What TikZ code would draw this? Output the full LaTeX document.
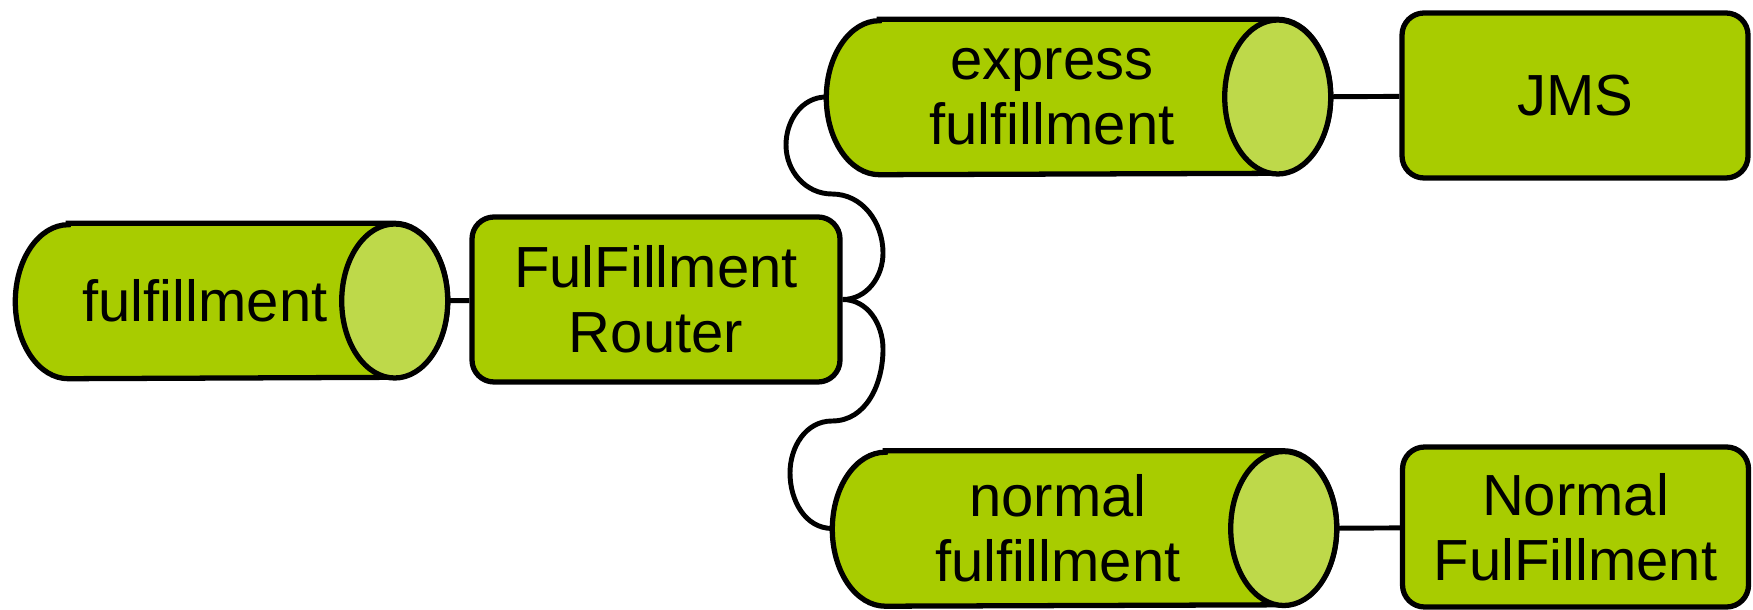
\documentclass[tikz,border=0pt]{standalone}
\usepackage{fontspec}
\setmainfont{Liberation Sans}
\usetikzlibrary{positioning,backgrounds}

\definecolor{limefill}{RGB}{168,204,0}
\definecolor{limeend}{RGB}{190,217,74}

% channel drawn as a lying cylinder round the named node
\newcommand{\pipeshape}[1]{%
  \filldraw[pipeline] ([xshift=0.53cm]#1.north west) -- (#1.north east)
    arc[start angle=90,end angle=-90,x radius=0.53cm,y radius=0.77cm]
    -- ([xshift=0.53cm]#1.south west)
    arc[start angle=270,end angle=90,x radius=0.53cm,y radius=0.77cm] -- cycle;
  \filldraw[pipeline, fill=limeend] (#1.east) ellipse[x radius=0.53cm,y radius=0.77cm];
}

\begin{document}
\begin{tikzpicture}[
  pipe/.style={rectangle, minimum height=1.54cm, inner sep=0pt, align=center,
    font=\fontsize{16.5}{18.5}\selectfont},
  pipeline/.style={draw=black, fill=limefill, line width=1.5pt},
  unit/.style={rectangle, draw, line width=1.5pt, rounded corners=2.2mm, fill=limefill,
    minimum width=3.46cm, minimum height=1.63cm, align=center,
    font=\fontsize{16.5}{18.5}\selectfont},
  link/.style={line width=1.4pt}
]

\useasboundingbox (0,0) rectangle (17.53,6.09);

% Channels
\draw (2.05,3.08) node [pipe, minimum width=3.78cm] (fulfillment) {fulfillment};
\draw (10.52,5.12) node [pipe, minimum width=4.50cm] (express) {express\\fulfillment};
\draw (10.58,0.805) node [pipe, minimum width=4.50cm] (normal) {normal\\fulfillment};

% Endpoints
\draw (6.56,3.095) node [unit, minimum width=3.68cm, minimum height=1.65cm] (router) {FulFillment\\Router};
\draw (15.75,5.135) node [unit, minimum height=1.65cm] (jms) {JMS};
\draw (15.755,0.82) node [unit, minimum height=1.60cm] (normalService) {Normal\\FulFillment};

% Bends of the router wires
\coordinate (upLeft) at (7.86,4.64);
\coordinate (upMid) at (8.32,4.15);
\coordinate (upRight) at (8.83,3.56);
\coordinate (downRight) at (8.83,2.60);
\coordinate (downMid) at (8.32,1.88);
\coordinate (downLeft) at (7.90,1.36);

\begin{scope}[on background layer]
% Lines
\draw [link] (fulfillment.east)--(router);
\draw [link] (express.east)--(jms);
\draw [link] (normal.east)--(normalService);
\draw [link] (router.east) to[out=0,in=-90] (upRight) to[out=90,in=0] (upMid) to[out=180,in=-90] (upLeft) to[out=90,in=180] (express.west);
\draw [link] (router.east) to[out=0,in=90] (downRight) to[out=-90,in=0] (downMid) to[out=180,in=90] (downLeft) to[out=-90,in=180] (normal.west);

% Cylinders
\pipeshape{fulfillment}
\pipeshape{express}
\pipeshape{normal}
\end{scope}
\end{tikzpicture}
\end{document}
